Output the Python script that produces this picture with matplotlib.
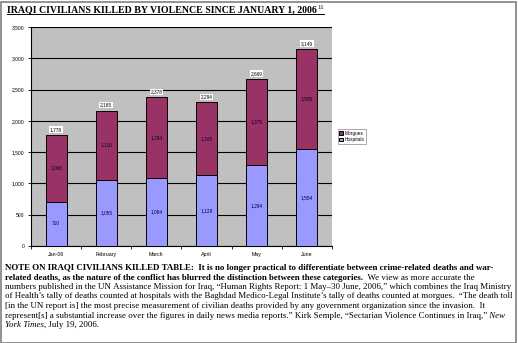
import matplotlib
matplotlib.use("Agg")
import matplotlib.pyplot as plt
from matplotlib.lines import Line2D
from matplotlib.patches import Rectangle
import numpy as np

categories = ["Jan-06", "February", "March", "April", "May", "June"]
hospitals = [710, 1055, 1084, 1129, 1294, 1554]
morgues = [1068, 1110, 1294, 1165, 1375, 1595]
totals = [1778, 2165, 2378, 2294, 2669, 3149]
yticks = [0, 500, 1000, 1500, 2000, 2500, 3000, 3500]

W, H = 518, 343
fig = plt.figure(figsize=(W / 100, H / 100), dpi=100)
fig.patch.set_facecolor("white")

fig.add_artist(Rectangle((0.5 / W, 0.5 / H), (W - 2.5) / W, (H - 2.5) / H,
                         transform=fig.transFigure, fill=False,
                         edgecolor="#808080", lw=1.2))

ax = fig.add_axes([31 / W, 1 - 246 / H, 301 / W, 219 / H])
ax.set_facecolor("#C0C0C0")
x = np.arange(len(categories))
bw = 0.42
ax.bar(x, hospitals, bw, color="#9999FF", edgecolor="black", lw=0.7,
       label="Hospitals", zorder=3)
ax.bar(x, morgues, bw, bottom=hospitals, color="#993366", edgecolor="black",
       lw=0.7, label="Morgues", zorder=3)
ax.set_xlim(-0.5, len(categories) - 0.5)
ax.set_ylim(0, 3500)
ax.set_yticks(yticks)
ax.set_yticklabels([f"{v:,}" for v in yticks], fontsize=3.6,
                   family="Liberation Sans")
ax.set_xticks(x)
ax.set_xticklabels(categories, fontsize=3.8, family="Liberation Sans")
ax.set_xticks(np.arange(len(categories) + 1) - 0.5, minor=True)
ax.tick_params(axis="x", which="major", length=0, pad=4)
ax.tick_params(axis="x", which="minor", length=2.5, width=0.6)
ax.tick_params(axis="y", length=2.5, width=0.6, pad=2)
ax.yaxis.grid(True, color="black", lw=0.8, zorder=1)
for s in ["top", "right"]:
    ax.spines[s].set_visible(False)
ax.spines["left"].set_linewidth(0.8)
ax.spines["bottom"].set_linewidth(0.8)

for i in range(len(categories)):
    ax.text(x[i], hospitals[i] / 2, f"{hospitals[i]:,}", ha="center",
            va="center", fontsize=3.4, family="Liberation Sans",
            color="#000033", zorder=4)
    ax.text(x[i], hospitals[i] + morgues[i] / 2, f"{morgues[i]:,}",
            ha="center", va="center", fontsize=3.4, family="Liberation Sans",
            color="#000033", zorder=4)
    ax.text(x[i], totals[i] + 45, f"{totals[i]:,}", ha="center",
            va="bottom", fontsize=3.4, family="Liberation Sans", zorder=4,
            bbox=dict(boxstyle="square,pad=0.15", fc="white", ec="none"))

h, l = ax.get_legend_handles_labels()
leg = fig.legend(h[::-1], l[::-1], loc="center",
                 bbox_to_anchor=(352 / W, 1 - 136.5 / H),
                 frameon=True, fancybox=False, edgecolor="#808080",
                 handlelength=0.8, handleheight=0.8, handletextpad=0.3,
                 borderpad=0.4, labelspacing=0.3, borderaxespad=0,
                 prop={"family": "Liberation Sans", "size": 3.4})
leg.get_frame().set_linewidth(0.6)

renderer = fig.canvas.get_renderer()


def px_width(t):
    return t.get_window_extent(renderer).width


# Title
title = "IRAQI CIVILIANS KILLED BY VIOLENCE SINCE JANUARY 1, 2006"
tx0, ty = 7, 12
tt = fig.text(tx0 / W, 1 - ty / H, title, fontsize=7.5, weight="bold",
              family="Liberation Serif", va="baseline", ha="left")
tw = px_width(tt)
tt.set_fontsize(7.5 * (316 - tx0) / tw)
tw = px_width(tt)
sup = fig.text((tx0 + tw + 0.5) / W, 1 - (ty - 3) / H, "11", fontsize=5,
               family="Liberation Serif", va="baseline", ha="left")
sw = px_width(sup)
fig.add_artist(Line2D([tx0 / W, (tx0 + tw + 0.5 + sw) / W],
                      [1 - (ty + 1.8) / H] * 2, transform=fig.transFigure,
                      color="black", lw=0.7))

# Paragraph
B, N, I = "bold", "normal", "italic"
lines = [
    [(B, "NOTE ON IRAQI CIVILIANS KILLED TABLE:  It is no longer practical to differentiate between crime-related deaths and war-")],
    [(B, "related deaths, as the nature of the conflict has blurred the distinction between these categories."),
     (N, "  We view as more accurate the")],
    [(N, "numbers published in the UN Assistance Mission for Iraq, \u201cHuman Rights Report: 1 May\u201330 June, 2006,\u201d which combines the Iraq Ministry")],
    [(N, "of Health\u2019s tally of deaths counted at hospitals with the Baghdad Medico-Legal Institute\u2019s tally of deaths counted at morgues.  \u201cThe death toll")],
    [(N, "[in the UN report is] the most precise measurement of civilian deaths provided by any government organization since the invasion.  It")],
    [(N, "represent[s] a substantial increase over the figures in daily news media reports.\u201d Kirk Semple, \u201cSectarian Violence Continues in Iraq,\u201d"),
     (I, " New")],
    [(I, "York Times"), (N, ", July 19, 2006.")],
]
left, right = 5, 510
y0, dy = 270, 9.5


def seg_kw(style, fs):
    kw = dict(family="Liberation Serif", va="baseline", ha="left",
              fontsize=fs)
    if style == B:
        kw["weight"] = "bold"
    elif style == I:
        kw["style"] = "italic"
    return kw


def line_width(segs, fs):
    tot = 0
    for style, s in segs:
        t = fig.text(0, 0, s.replace(" ", "\u00a0"), **seg_kw(style, fs))
        tot += px_width(t)
        t.remove()
    return tot


ref_fs = 10.0
fs = min(ref_fs * (right - left) / line_width(lines[k], ref_fs)
         for k in range(len(lines) - 1))

for li, segs in enumerate(lines):
    ypx = y0 + li * dy
    cx = left
    for style, s in segs:
        t = fig.text(cx / W, 1 - ypx / H, s.replace(" ", "\u00a0"),
                     **seg_kw(style, fs))
        cx += px_width(t)

fig.savefig("out.png", dpi=100)
